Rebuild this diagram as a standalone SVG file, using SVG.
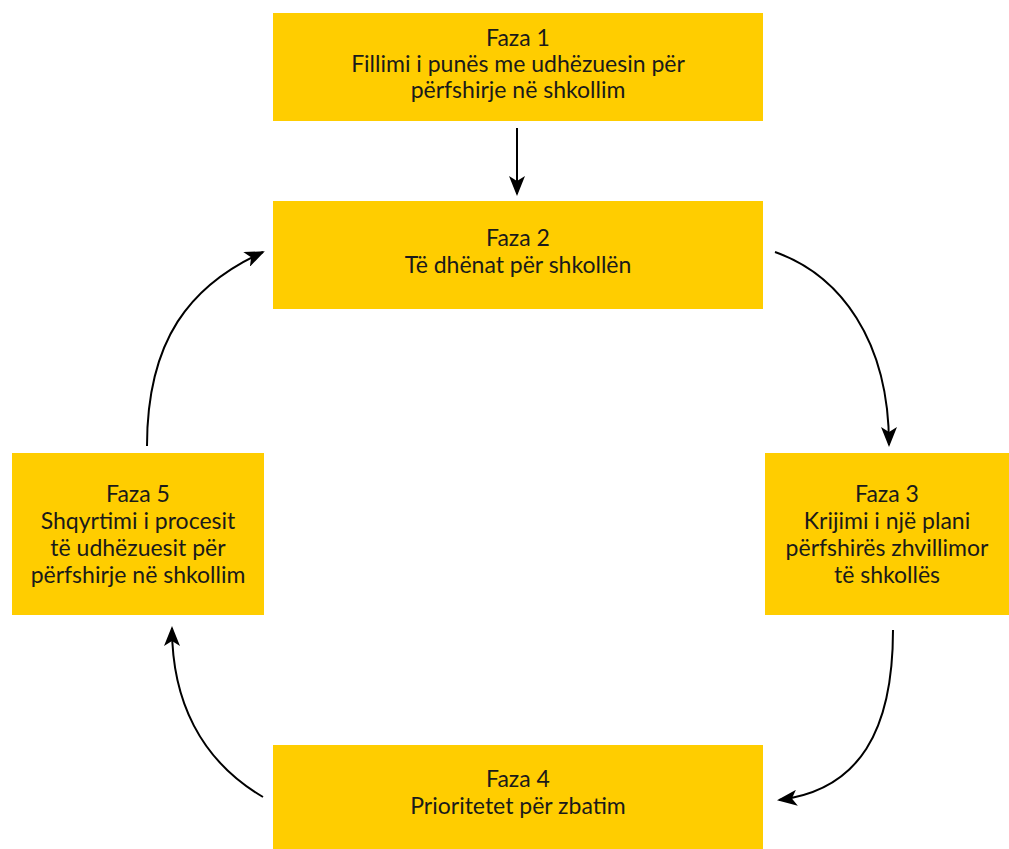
<svg xmlns="http://www.w3.org/2000/svg" width="1009" height="849" viewBox="0 0 1009 849">
<style>
.box{fill:#FFCD00;}
.t{font-family:Lato,"Open Sans","DejaVu Sans",sans-serif;font-size:23px;fill:#1a1a1a;text-anchor:middle;}
.c{fill:none;stroke:#000;stroke-width:2;}
</style>
<defs>
<marker id="ah" viewBox="0 0 20 16" refX="18" refY="8" markerWidth="20" markerHeight="16" markerUnits="userSpaceOnUse" orient="auto">
<path d="M0,0 L20,8 L0,16 L5,8 Z" fill="#000"/>
</marker>
</defs>
<rect width="1009" height="849" fill="#fff"/>
<g id="faza1">
<rect class="box" x="273" y="13" width="490" height="108"/>
<text class="t" x="518" y="46">Faza 1</text>
<text class="t" x="518" y="72">Fillimi i punës me udhëzuesin për</text>
<text class="t" x="518" y="98">përfshirje në shkollim</text>
</g>
<g id="faza2">
<rect class="box" x="273" y="201" width="490" height="108"/>
<text class="t" x="518" y="246">Faza 2</text>
<text class="t" x="518" y="273">Të dhënat për shkollën</text>
</g>
<g id="faza3">
<rect class="box" x="765" y="453" width="244" height="162"/>
<text class="t" x="887" y="502">Faza 3</text>
<text class="t" x="887" y="529">Krijimi i një plani</text>
<text class="t" x="887" y="556">përfshirës zhvillimor</text>
<text class="t" x="887" y="583">të shkollës</text>
</g>
<g id="faza4">
<rect class="box" x="273" y="745" width="490" height="104"/>
<text class="t" x="518" y="787">Faza 4</text>
<text class="t" x="518" y="814">Prioritetet për zbatim</text>
</g>
<g id="faza5">
<rect class="box" x="12" y="453" width="252" height="162"/>
<text class="t" x="138" y="502">Faza 5</text>
<text class="t" x="138" y="529">Shqyrtimi i procesit</text>
<text class="t" x="138" y="556">të udhëzuesit për</text>
<text class="t" x="138" y="583">përfshirje në shkollim</text>
</g>
<g id="connectors">
<path class="c" d="M517,128 L517,194" marker-end="url(#ah)"/>
<path class="c" d="M775,252 C840,275 889,340 889,445" marker-end="url(#ah)"/>
<path class="c" d="M893,630 C893,730 860,790 779,800" marker-end="url(#ah)"/>
<path class="c" d="M263,797 C200,760 172,700 172,628" marker-end="url(#ah)"/>
<path class="c" d="M147,446 C147,340 190,285 263,252" marker-end="url(#ah)"/>
</g>
</svg>
